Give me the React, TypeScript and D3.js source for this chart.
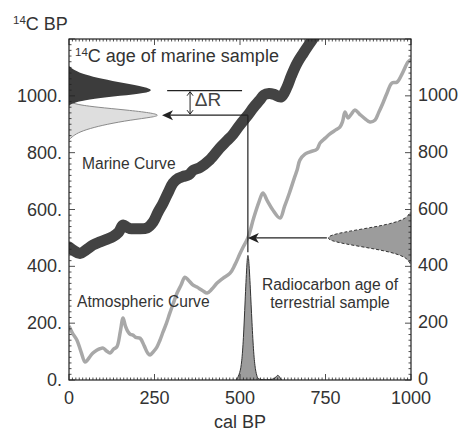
import React from "react";
import * as d3 from "d3";

// ---- data ----
const marineCal = [0, 15, 32, 50, 70, 91, 110, 129, 145, 158, 170, 178, 200, 228, 246, 260, 275, 290, 304, 320, 333, 350, 363, 383, 412, 440, 460, 480, 500, 523, 540, 558, 570, 585, 600, 620, 637, 650, 667, 685, 705, 730];
const marineAge = [468, 455, 445, 458, 475, 486, 495, 505, 520, 545, 537, 533, 532, 535, 556, 590, 622, 660, 693, 710, 716, 722, 738, 748, 775, 815, 840, 865, 898, 932, 960, 985, 1003, 1008, 1005, 996, 1030, 1070, 1115, 1150, 1186, 1230];

const atmosCal = [0, 10, 23, 35, 47, 55, 61, 70, 81, 90, 100, 110, 120, 130, 140, 150, 158, 165, 173, 180, 187, 195, 208, 220, 230, 237, 247, 257, 266, 275, 285, 295, 305, 316, 328, 339, 350, 362, 374, 390, 404, 418, 433, 450, 471, 485, 500, 510, 523, 540, 555, 567, 580, 595, 617, 630, 645, 660, 667, 675, 690, 705, 725, 734, 750, 763, 780, 792, 800, 807, 816, 825, 836, 850, 865, 880, 895, 905, 918, 930, 944, 959, 975, 991, 1000];
const atmosAge = [190, 165, 141, 100, 63, 72, 82, 95, 105, 110, 112, 102, 95, 108, 117, 170, 218, 190, 169, 160, 158, 150, 147, 120, 95, 88, 100, 116, 140, 169, 200, 236, 270, 306, 335, 362, 350, 335, 327, 315, 306, 320, 341, 358, 376, 405, 445, 470, 500, 570, 625, 658, 630, 600, 570, 610, 660, 715, 739, 774, 795, 803, 812, 834, 852, 866, 880, 890, 910, 943, 922, 935, 950, 935, 920, 908, 915, 940, 975, 1010, 1045, 1048, 1080, 1119, 1128];

// marine-sample 14C age distribution (dark): age, width in cal units
const darkDistAge = [1105, 1090, 1075, 1060, 1045, 1030, 1020, 1010, 1000, 990, 980, 970, 965];
const darkDistWidth = [0, 15, 45, 95, 160, 225, 246, 225, 150, 70, 25, 5, 0];

// reservoir-corrected distribution (light)
const lightDistAge = [980, 970, 960, 950, 940, 932, 925, 915, 900, 885, 870, 855, 845];
const lightDistWidth = [0, 20, 80, 170, 240, 266, 245, 180, 110, 60, 25, 8, 0];

// terrestrial radiocarbon age distribution (right side)
const terrDistAge = [410, 420, 430, 440, 450, 460, 470, 480, 490, 500, 510, 520, 530, 540, 550, 560, 570, 580, 590];
const terrDistWidth = [3, 7, 16, 33, 61, 101, 149, 197, 233, 246, 233, 197, 149, 101, 61, 33, 16, 7, 3];

// calibrated age distribution (bottom)
const calDistCal = [490, 500, 505, 510, 515, 520, 523, 526, 530, 535, 540, 545, 550, 555, 600, 607, 612, 617, 622];
const calDistHeight = [0, 25, 60, 140, 280, 410, 450, 420, 330, 200, 90, 35, 10, 0, 0, 15, 18, 8, 0];

const xTicks = [0, 250, 500, 750, 1000];
const yTicks = [0, 200, 400, 600, 800, 1000];

const W = 461, H = 434;
const FONT = "'Liberation Sans', Arial, Helvetica, sans-serif";

export default function App() {
  const x = d3.scaleLinear().domain([0, 1000]).range([69, 411]);
  const y = d3.scaleLinear().domain([0, 1200]).range([380, 39]);

  const marine = marineCal.map((c, i) => [c, marineAge[i]] as [number, number]);
  const atmos = atmosCal.map((c, i) => [c, atmosAge[i]] as [number, number]);

  const line = d3.line<[number, number]>().x(d => x(d[0])).y(d => y(d[1])).curve(d3.curveCatmullRom.alpha(0.5));

  const leftArea = (ages: number[], widths: number[]) =>
    d3.area<number>()
      .y((_, i) => y(ages[i]))
      .x0(() => x(0))
      .x1((_, i) => x(widths[i]))
      .curve(d3.curveBasis)(ages.map((_, i) => i)) || "";
  const leftOutline = (ages: number[], widths: number[]) =>
    d3.line<number>()
      .y((_, i) => y(ages[i]))
      .x((_, i) => x(widths[i]))
      .curve(d3.curveBasis)(ages.map((_, i) => i)) || "";

  const terrArea = d3.area<number>()
    .y((_, i) => y(terrDistAge[i]))
    .x0(() => x(1000))
    .x1((_, i) => x(1000 - terrDistWidth[i]))
    .curve(d3.curveBasis)(terrDistAge.map((_, i) => i)) || "";
  const terrLine = d3.line<number>()
    .y((_, i) => y(terrDistAge[i]))
    .x((_, i) => x(1000 - terrDistWidth[i]))
    .curve(d3.curveBasis)(terrDistAge.map((_, i) => i)) || "";

  const calArea = d3.area<number>()
    .x((_, i) => x(calDistCal[i]))
    .y0(() => y(0))
    .y1((_, i) => y(calDistHeight[i]))
    .curve(d3.curveBasis)(calDistCal.map((_, i) => i)) || "";
  const calLine = d3.line<number>()
    .x((_, i) => x(calDistCal[i]))
    .y((_, i) => y(calDistHeight[i]))
    .curve(d3.curveBasis)(calDistCal.map((_, i) => i)) || "";

  const minorX = d3.range(0, 1001, 10);
  const minorY = d3.range(0, 1201, 20);

  const calPt = 523, marineSampleAge = 1018, correctedAge = 932, terrAge = 500;
  const arrow = (tx: number, ty: number) =>
    `M${tx},${ty} L${tx + 11},${ty - 5} L${tx + 8},${ty} L${tx + 11},${ty + 5} Z`;

  const txt = "#333";

  return (
    <svg width={W} height={H} style={{ position: "absolute", left: 0, top: 0, background: "#fff" }} fontFamily={FONT}>
      <defs>
        <clipPath id="plot">
          <rect x={69} y={39} width={342} height={341} />
        </clipPath>
      </defs>

      <g clipPath="url(#plot)">
        <path d={line(atmos) || ""} fill="none" stroke="#a8a8a8" strokeWidth={3.5} strokeLinejoin="round" />
        <path d={line(marine) || ""} fill="none" stroke="#434343" strokeWidth={11} strokeLinejoin="round" strokeLinecap="round" />

        <path d={leftArea(lightDistAge, lightDistWidth)} fill="#dedede" />
        <path d={leftOutline(lightDistAge, lightDistWidth)} fill="none" stroke="#8a8a8a" strokeWidth={1} />
        <path d={leftArea(darkDistAge, darkDistWidth)} fill="#3c3c3c" />

        <path d={terrArea} fill="#9c9c9c" />
        <path d={terrLine} fill="none" stroke="#333" strokeWidth={1} strokeDasharray="3,2" />

        <path d={calArea} fill="#9c9c9c" />
        <path d={calLine} fill="none" stroke="#333" strokeWidth={1} />
      </g>

      {/* annotation lines */}
      <line x1={x(calPt)} x2={x(calPt)} y1={y(correctedAge)} y2={y(450)} stroke="#222" strokeWidth={1.2} />
      <line x1={x(calPt)} x2={x(282)} y1={y(correctedAge)} y2={y(correctedAge)} stroke="#222" strokeWidth={1.2} />
      <path d={arrow(x(272), y(correctedAge))} fill="#222" />
      <line x1={x(1000 - terrDistWidth[9])} x2={x(calPt) + 8} y1={y(terrAge)} y2={y(terrAge)} stroke="#222" strokeWidth={1.2} />
      <path d={arrow(x(calPt), y(terrAge))} fill="#222" />
      <line x1={x(287)} x2={x(506)} y1={y(marineSampleAge)} y2={y(marineSampleAge)} stroke="#222" strokeWidth={1.2} />
      <line x1={x(354)} x2={x(354)} y1={y(marineSampleAge) + 1} y2={y(correctedAge) - 1} stroke="#222" strokeWidth={1} />
      <path d={`M${x(354) - 3},${y(marineSampleAge) + 5} L${x(354)},${y(marineSampleAge) + 1} L${x(354) + 3},${y(marineSampleAge) + 5}`} fill="none" stroke="#222" strokeWidth={1} />
      <path d={`M${x(354) - 3},${y(correctedAge) - 5} L${x(354)},${y(correctedAge) - 1} L${x(354) + 3},${y(correctedAge) - 5}`} fill="none" stroke="#222" strokeWidth={1} />
      <text x={x(368)} y={y(963)} fontSize={19} fill="#444">ΔR</text>

      {/* frame */}
      <rect x={69} y={39} width={342} height={341} fill="none" stroke="#222" strokeWidth={1.2} />

      {/* ticks */}
      {minorX.map(v => (
        <g key={"mx" + v}>
          <line x1={x(v)} x2={x(v)} y1={380} y2={380 - (v % 250 === 0 ? 6 : 2.5)} stroke="#222" strokeWidth={0.8} />
          <line x1={x(v)} x2={x(v)} y1={39} y2={39 + (v % 250 === 0 ? 6 : 2.5)} stroke="#222" strokeWidth={0.8} />
        </g>
      ))}
      {minorY.map(v => (
        <g key={"my" + v}>
          <line x1={69} x2={69 + (v % 200 === 0 ? 6 : 2.5)} y1={y(v)} y2={y(v)} stroke="#222" strokeWidth={0.8} />
          <line x1={411} x2={411 - (v % 200 === 0 ? 6 : 2.5)} y1={y(v)} y2={y(v)} stroke="#222" strokeWidth={0.8} />
        </g>
      ))}

      {/* tick labels */}
      {yTicks.map(v => (
        <text key={"yl" + v} x={62} y={y(v) + 6} fontSize={18} textAnchor="end" fill={txt}>{v + "."}</text>
      ))}
      {yTicks.map(v => (
        <text key={"yr" + v} x={418} y={y(v) + 5} fontSize={18} textAnchor="start" fill={txt}>{v}</text>
      ))}
      {xTicks.map(v => (
        <text key={"xl" + v} x={x(v)} y={404} fontSize={18} textAnchor="middle" fill={txt}>{v}</text>
      ))}

      {/* axis titles */}
      <text x={240} y={428} fontSize={18} textAnchor="middle" fill={txt}>cal BP</text>
      <text x={13} y={30} fontSize={18} fill={txt}>
        <tspan fontSize={11.5} dy={-6}>14</tspan>
        <tspan dy={6}>C BP</tspan>
      </text>

      {/* in-plot labels */}
      <text x={75} y={62} fontSize={18} fill={txt}>
        <tspan fontSize={11.5} dy={-6}>14</tspan>
        <tspan dy={6}>C age of marine sample</tspan>
      </text>
      <text x={82} y={169} fontSize={15.6} fill={txt}>Marine Curve</text>
      <text x={77} y={307} fontSize={15.6} fill={txt}>Atmospheric Curve</text>
      <text x={330} y={290} fontSize={15.6} fill={txt} textAnchor="middle">Radiocarbon age of</text>
      <text x={330} y={308} fontSize={15.6} fill={txt} textAnchor="middle">terrestrial sample</text>
    </svg>
  );
}
